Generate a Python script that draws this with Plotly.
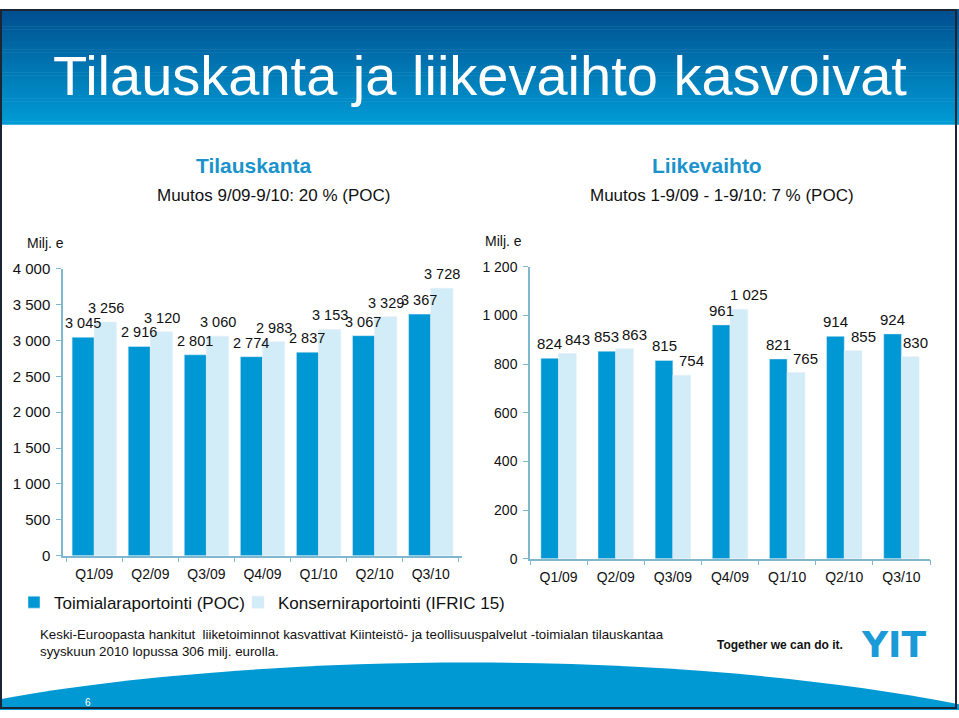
import plotly.graph_objects as go

W, H = 959, 718

# data
quarters = ["Q1/09", "Q2/09", "Q3/09", "Q4/09", "Q1/10", "Q2/10", "Q3/10"]
tilaus_poc = [3045, 2916, 2801, 2774, 2837, 3067, 3367]
tilaus_ifric = [3256, 3120, 3060, 2983, 3153, 3329, 3728]
liike_poc = [824, 853, 815, 961, 821, 914, 924]
liike_ifric = [843, 863, 754, 1025, 765, 855, 830]

left_ticks = [0, 500, 1000, 1500, 2000, 2500, 3000, 3500, 4000]
right_ticks = [0, 200, 400, 600, 800, 1000, 1200]

DARK = "#0098d4"
LIGHT = "#d2ecf8"
AXIS = "#7fb7cf"
FONT = "Liberation Sans, Arial, sans-serif"
NARROW = "Liberation Sans Narrow, Arial Narrow, Liberation Sans, Arial, sans-serif"

# plot areas in pixels (left, right, top, bottom)
LEFT_BOX = (63, 462, 266, 560)
RIGHT_BOX = (530, 930, 264, 563)
LEFT_W = 0.395   # bar width, category units
RIGHT_W = 0.31


def fmt(v):
    return f"{v:,}".replace(",", " ")


def px(x):
    return x / W


def py(y):
    return 1 - y / H


fig = go.Figure()

fig.add_trace(go.Bar(x=quarters, y=tilaus_poc, name="Toimialaraportointi (POC)",
                     marker_color=DARK, offset=-LEFT_W, width=LEFT_W,
                     xaxis="x", yaxis="y", legend="legend"))
fig.add_trace(go.Bar(x=quarters, y=tilaus_ifric, name="Konserniraportointi (IFRIC 15)",
                     marker_color=LIGHT, offset=0, width=LEFT_W,
                     xaxis="x", yaxis="y", legend="legend2"))
fig.add_trace(go.Bar(x=quarters, y=liike_poc, showlegend=False,
                     marker_color=DARK, offset=-RIGHT_W, width=RIGHT_W,
                     xaxis="x2", yaxis="y2"))
fig.add_trace(go.Bar(x=quarters, y=liike_ifric, showlegend=False,
                     marker_color=LIGHT, offset=0, width=RIGHT_W,
                     xaxis="x2", yaxis="y2"))

ann = []


def bar_labels(vals, xref, yref, box, bw, side, ymax, size, other=None):
    cat_px = (box[1] - box[0]) / len(quarters)
    unit_px = (box[3] - box[2]) / ymax
    for i, (q, v) in enumerate(zip(quarters, vals)):
        shift = side * bw * cat_px / 2
        if other is not None:
            # nudge the light label right when it sits on the same row as the dark one
            shift += 10 if abs(v - other[i]) * unit_px < 16 else 5
        ann.append(dict(text=fmt(v), x=q, y=v, xref=xref, yref=yref, showarrow=False,
                        xanchor="center", yanchor="bottom", xshift=shift, yshift=4,
                        font=dict(size=size, color="#111")))


bar_labels(tilaus_poc, "x", "y", LEFT_BOX, LEFT_W, -1, 4000, 14.5)
bar_labels(tilaus_ifric, "x", "y", LEFT_BOX, LEFT_W, 1, 4000, 14.5)
bar_labels(liike_poc, "x2", "y2", RIGHT_BOX, RIGHT_W, -1, 1200, 15)
bar_labels(liike_ifric, "x2", "y2", RIGHT_BOX, RIGHT_W, 1, 1200, 15, other=liike_poc)

xcommon = dict(showgrid=False, zeroline=False, showline=True, linecolor=AXIS,
               linewidth=1.5, ticks="outside", tickson="boundaries", ticklen=5,
               tickcolor=AXIS, tickfont=dict(size=14, color="#111"),
               ticklabelstandoff=5, fixedrange=True)
ycommon = dict(showgrid=False, zeroline=False, showline=True, linecolor=AXIS,
               linewidth=1.5, ticks="outside", ticklen=5, tickcolor=AXIS,
               ticklabelstandoff=3, fixedrange=True)

shapes = []
# title band gradient
top, bottom = (0, 80, 143), (0, 155, 213)
steps = 40
for i in range(steps):
    t = i / (steps - 1)
    c = tuple(int(top[k] + (bottom[k] - top[k]) * t) for k in range(3))
    y0 = 118 * i / steps
    y1 = 118 * (i + 1) / steps + 0.5
    shapes.append(dict(type="rect", xref="paper", yref="paper", layer="below",
                       x0=0, x1=1, y0=py(y1), y1=py(y0),
                       fillcolor=f"rgb{c}", line=dict(width=0)))

# bottom swoosh
shapes.append(dict(type="path", xref="paper", yref="paper", layer="below",
                   path=(f"M 0,{py(718)} L 0,{py(707)} "
                         f"C {px(200)},{py(668)} {px(620)},{py(645)} {px(959)},{py(712)} "
                         f"L {px(959)},{py(718)} Z"),
                   fillcolor="#0099d3", line=dict(width=0)))
# slide frame
shapes.append(dict(type="rect", xref="paper", yref="paper",
                   x0=px(1), x1=px(956), y0=py(716), y1=py(1),
                   line=dict(color="#1b2533", width=2)))


def note(text, x, y, size, color="#111", family=FONT, xanchor="center", bold=False):
    ann.append(dict(text=f"<b>{text}</b>" if bold else text, x=px(x), y=py(y),
                    xref="paper", yref="paper", showarrow=False,
                    xanchor=xanchor, yanchor="middle",
                    font=dict(size=size, color=color, family=family)))


note("Tilauskanta ja liikevaihto kasvoivat", 480, 68, 56, color="white")
note("Tilauskanta", 253, 160, 21, color="#1a93cc", bold=True)
note("Muutos 9/09-9/10: 20 % (POC)", 273, 191, 17)
note("Liikevaihto", 707, 160, 21, color="#1a93cc", bold=True)
note("Muutos 1-9/09 - 1-9/10: 7 % (POC)", 722, 191, 17)
note("Milj. e", 25, 240, 14, xanchor="left")
note("Milj. e", 483, 238, 14, xanchor="left")
note("Keski-Euroopasta hankitut  liiketoiminnot kasvattivat Kiinteistö- ja "
     "teollisuuspalvelut -toimialan tilauskantaa", 38, 641, 13.3, family=NARROW, xanchor="left")
note("syyskuun 2010 lopussa 306 milj. eurolla.", 38, 658, 13.3, family=NARROW, xanchor="left")
note("Together we can do it.", 715, 651, 12, xanchor="left", bold=True)
note("YIT", 893, 651, 36, color="#1a9ad6", family="DejaVu Sans, Liberation Sans", bold=True)
note("6", 88, 710, 10, color="white")

legend_style = dict(orientation="h", xanchor="left", yanchor="middle", y=py(608),
                    font=dict(size=17, color="#111"), bgcolor="rgba(0,0,0,0)")

fig.update_layout(
    width=W, height=H,
    margin=dict(l=0, r=0, t=0, b=0),
    paper_bgcolor="white", plot_bgcolor="rgba(0,0,0,0)",
    font=dict(family=FONT, color="#111"),
    barmode="overlay",
    xaxis=dict(domain=[px(LEFT_BOX[0]), px(LEFT_BOX[1])], anchor="y", **xcommon),
    yaxis=dict(domain=[py(LEFT_BOX[3]), py(LEFT_BOX[2])], anchor="x", range=[0, 4000],
               tickvals=left_ticks, ticktext=[fmt(v) for v in left_ticks],
               tickfont=dict(size=15, color="#111"), **ycommon),
    xaxis2=dict(domain=[px(RIGHT_BOX[0]), px(RIGHT_BOX[1])], anchor="y2", **xcommon),
    yaxis2=dict(domain=[py(RIGHT_BOX[3]), py(RIGHT_BOX[2])], anchor="x2", range=[0, 1200],
                tickvals=right_ticks, ticktext=[fmt(v) for v in right_ticks],
                tickfont=dict(size=14, color="#111"), **ycommon),
    legend=dict(x=px(14), **legend_style),
    legend2=dict(x=px(238), **legend_style),
    shapes=shapes,
    annotations=ann,
)

page_fix = (
    "var s=document.createElement('style');"
    "s.textContent='html,body{margin:0 !important;padding:0 !important;"
    "overflow:hidden;width:959px;height:718px;}';"
    "document.head.appendChild(s);"
    "var d=document.getElementById('{plot_id}');"
    "document.body.insertBefore(d, document.body.firstChild);"
    "d.style.position='absolute';d.style.top='0';d.style.left='0';"
)

fig.write_html("out.html", config={"displayModeBar": False}, post_script=page_fix)
